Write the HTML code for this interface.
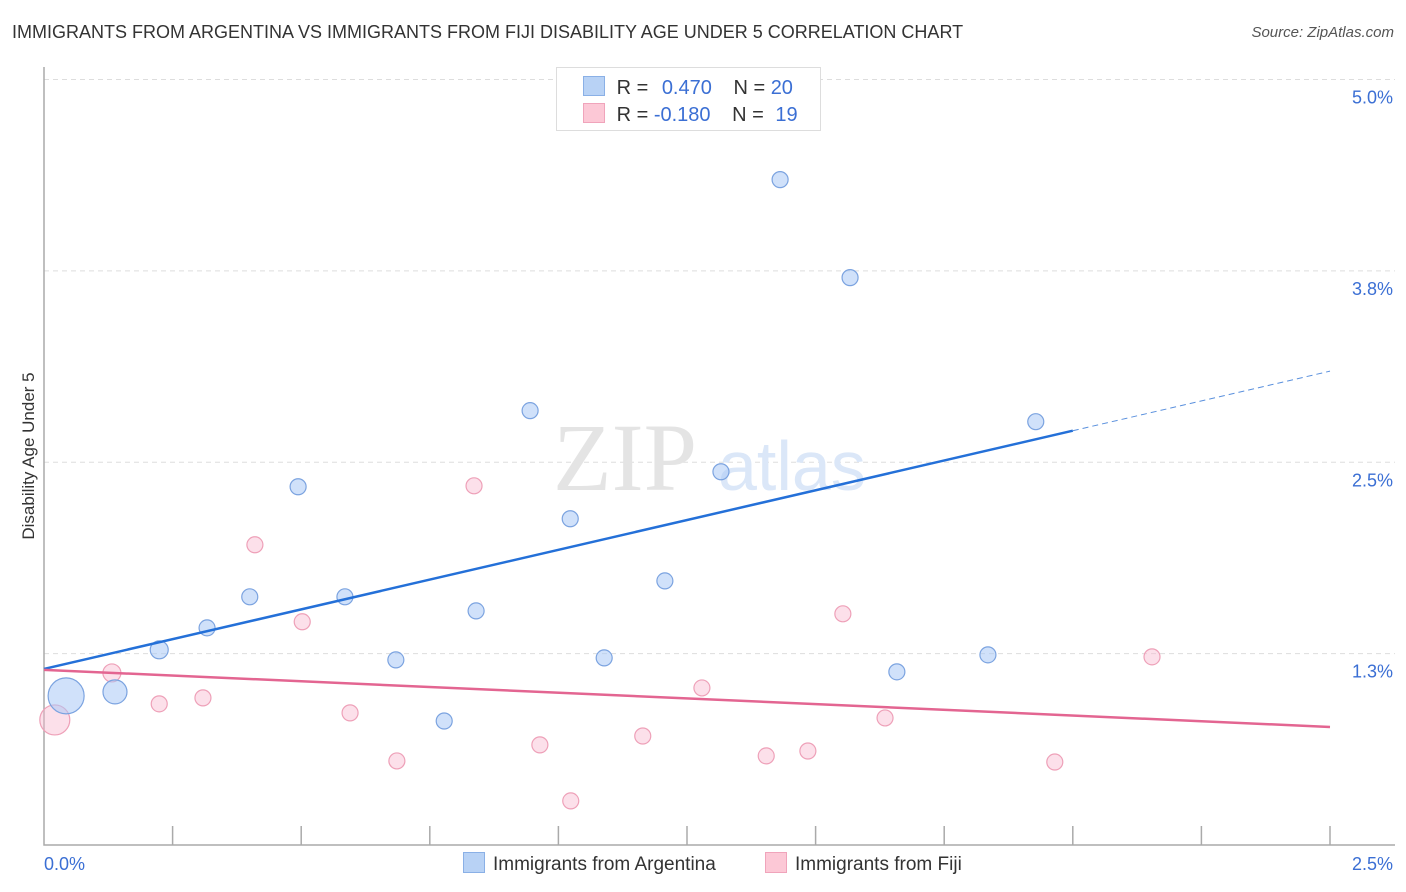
<!DOCTYPE html>
<html><head><meta charset="utf-8">
<style>
body{margin:0;background:#fff;font-family:"Liberation Sans",sans-serif;}
#wrap{position:relative;width:1406px;height:892px;overflow:hidden;}
.t{position:absolute;white-space:nowrap;}
</style></head>
<body>
<div id="wrap">
<div class="t" style="left:12px;top:22px;font-size:18px;color:#333;">IMMIGRANTS FROM ARGENTINA VS IMMIGRANTS FROM FIJI DISABILITY AGE UNDER 5 CORRELATION CHART</div>
<div class="t" style="right:12px;top:24px;font-size:15px;color:#555;font-style:italic;">Source: ZipAtlas.com</div>
<svg id="chart" width="1406" height="892" style="position:absolute;left:0;top:0"></svg>
</div>
<script>
const xTickLabels=["0.0%","2.5%"];
const yTickValues=[1.25,2.5,3.75,5.0];
const yTickLabels=["1.3%","2.5%","3.8%","5.0%"];
const argX=[0.043,0.138,0.224,0.317,0.400,0.494,0.585,0.684,0.778,0.840,0.945,1.023,1.089,1.207,1.316,1.431,1.567,1.658,1.835,1.928];
const argY=[0.974,1.000,1.275,1.418,1.621,2.340,1.621,1.209,0.810,1.529,2.837,2.131,1.222,1.725,2.438,4.346,3.706,1.131,1.242,2.765];
const argSize=[18,12,9,8,8,8,8,8,8,8,8,8,8,8,8,8,8,8,8,8];
const fijiX=[0.021,0.132,0.224,0.309,0.410,0.502,0.595,0.686,0.836,0.964,1.024,1.164,1.279,1.404,1.485,1.553,1.635,1.965,2.154];
const fijiY=[0.817,1.124,0.922,0.961,1.961,1.458,0.863,0.549,2.346,0.654,0.288,0.712,1.026,0.582,0.614,1.510,0.830,0.542,1.229];
const fijiSize=[15,9,8,8,8,8,8,8,8,8,8,8,8,8,8,8,8,8,8];
const argTrend=[[0,1.150],[2.0,2.706],[2.5,3.095]];
const fijiTrend=[[0,1.144],[2.5,0.771]];

const X0=44,X1=1330,Y0=845,PXPER=153.1;
const xs=v=>X0+(v/2.5)*(X1-X0);
const ys=v=>Y0-v*PXPER;
const svg=document.getElementById('chart');
const NS='http://www.w3.org/2000/svg';
function mk(tag,attrs,parent){const e=document.createElementNS(NS,tag);for(const k in attrs)e.setAttribute(k,attrs[k]);(parent||svg).appendChild(e);return e;}

// gridlines
yTickValues.forEach((v,i)=>{
  const g=mk('line',{x1:X0,x2:1395,y1:ys(v),y2:ys(v),stroke:'#ddd','stroke-dasharray':'5,4','stroke-width':1});
  
  
  const t=mk('text',{x:1393,y:ys(v)+24,'text-anchor':'end','font-size':18,fill:'#3b6fd4'});
  t.textContent=yTickLabels[i];
  
  
});
// watermark
const w1=mk('text',{x:553,y:490,'font-size':96,'font-family':'Liberation Serif, serif',fill:'#e4e4e4'});
w1.textContent='ZIP';


const w2=mk('text',{x:718,y:490,'font-size':70,fill:'#dbe7f8'});
w2.textContent='atlas';


// axes
const ax=mk('path',{d:`M${X0} 67 V${Y0} H1395`,stroke:'#aaa',fill:'none','stroke-width':1.5});


for(let i=1;i<=10;i++){
  const x=X0+i*(X1-X0)/10;
  const tk=mk('line',{x1:x,x2:x,y1:826,y2:Y0,stroke:'#aaa','stroke-width':1.5});
  
  
}
const xl0=mk('text',{x:44,y:870,'font-size':18,fill:'#3b6fd4'});xl0.textContent=xTickLabels[0];


const xl1=mk('text',{x:1393,y:870,'text-anchor':'end','font-size':18,fill:'#3b6fd4'});xl1.textContent=xTickLabels[1];


const yt=mk('text',{x:34,y:456,'font-size':17,fill:'#333','text-anchor':'middle',transform:'rotate(-90 34 456)'});
yt.textContent='Disability Age Under 5';



// points
fijiX.forEach((v,i)=>{
  const c=mk('circle',{cx:xs(v),cy:ys(fijiY[i]),r:fijiSize[i],fill:'rgba(248,187,208,0.45)',stroke:'#eea0b8','stroke-width':1.2});
  
  
});
argX.forEach((v,i)=>{
  const c=mk('circle',{cx:xs(v),cy:ys(argY[i]),r:argSize[i],fill:'rgba(170,200,245,0.55)',stroke:'#7ba3e0','stroke-width':1.2});
  
  
});
// trend lines
const bl=mk('line',{x1:xs(argTrend[0][0]),y1:ys(argTrend[0][1]),x2:xs(argTrend[1][0]),y2:ys(argTrend[1][1]),stroke:'#2470d8','stroke-width':2.5});


const bd=mk('line',{x1:xs(argTrend[1][0]),y1:ys(argTrend[1][1]),x2:xs(argTrend[2][0]),y2:ys(argTrend[2][1]),stroke:'#5a90dd','stroke-width':1,'stroke-dasharray':'6,4'});


const pl=mk('line',{x1:xs(fijiTrend[0][0]),y1:ys(fijiTrend[0][1]),x2:xs(fijiTrend[1][0]),y2:ys(fijiTrend[1][1]),stroke:'#e36591','stroke-width':2.5});


</script>

<div class="t" style="left:556px;top:67px;width:263px;height:62px;border:1px solid #ddd;background:#fff;font-size:20px;">
  <div style="position:absolute;left:26px;top:8px;">
    <span style="display:inline-block;width:20px;height:18px;background:#b8d2f5;border:1px solid #8ab0e6;vertical-align:-2px;"></span>
    <span style="color:#333;margin-left:6px;">R = </span><span style="color:#3b6fd4;margin-left:8px;">0.470</span>
    <span style="color:#333;margin-left:16px;">N = </span><span style="color:#3b6fd4;">20</span>
  </div>
  <div style="position:absolute;left:26px;top:35px;">
    <span style="display:inline-block;width:20px;height:18px;background:#fcc8d6;border:1px solid #f0a4bb;vertical-align:-2px;"></span>
    <span style="color:#333;margin-left:6px;">R = </span><span style="color:#3b6fd4;">-0.180</span>
    <span style="color:#333;margin-left:16px;">N = </span><span style="color:#3b6fd4;margin-left:6px;">19</span>
  </div>
</div>

<div class="t" style="left:463px;top:852px;font-size:19px;color:#333;">
  <span style="display:inline-block;width:20px;height:19px;background:#b8d2f5;border:1px solid #8ab0e6;vertical-align:-3px;margin-right:8px;"></span>Immigrants from Argentina</div>
<div class="t" style="left:765px;top:852px;font-size:19px;color:#333;">
  <span style="display:inline-block;width:20px;height:19px;background:#fcc8d6;border:1px solid #f0a4bb;vertical-align:-3px;margin-right:8px;"></span>Immigrants from Fiji</div>
</body></html>
